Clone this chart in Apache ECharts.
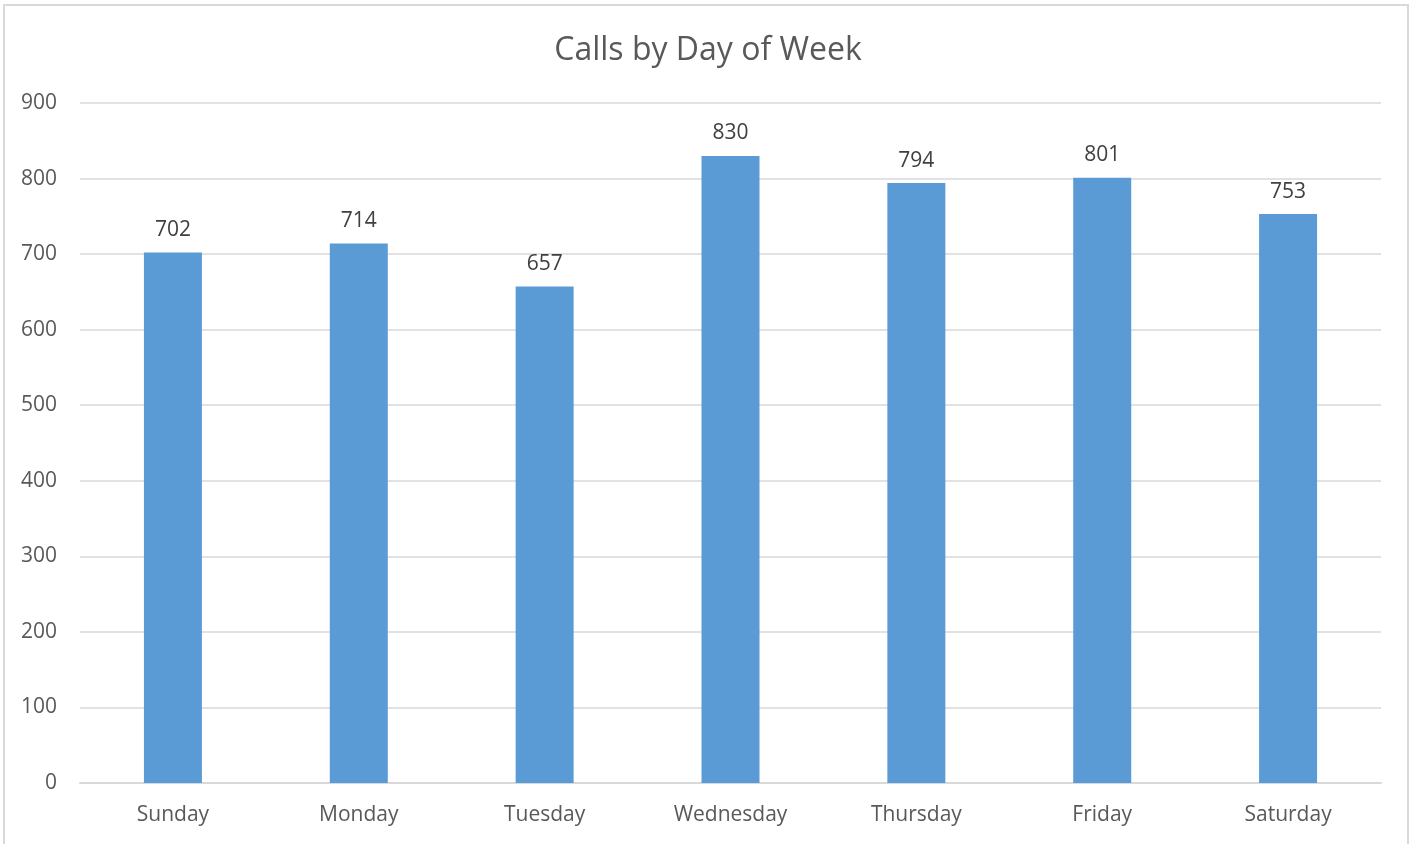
<!DOCTYPE html>
<html>
<head>
<meta charset="utf-8">
<script src="https://cdn.jsdelivr.net/npm/echarts@6/dist/echarts.min.js"></script>
<style>
    html, body { margin: 0; padding: 0; background: #fff; }
    #main { width: 1416px; height: 844px; }
    .frame {
        position: absolute; left: 3px; top: 4px; width: 1406px; height: 840px;
        border: 2px solid #d9d9d9; border-bottom: none; box-sizing: border-box; pointer-events: none;
    }
</style>
</head>
<body>
<div id="main"></div>
<div class="frame"></div>
<script>
    var days = ['Sunday', 'Monday', 'Tuesday', 'Wednesday', 'Thursday', 'Friday', 'Saturday'];
    var calls = [702, 714, 657, 830, 794, 801, 753];

    var chart = echarts.init(document.getElementById('main'));
    var font = 'Open Sans, Noto Sans, sans-serif';
    chart.setOption({
        animation: false,
        title: {
            text: 'Calls by Day of Week',
            left: 'center',
            top: 30,
            textStyle: { fontFamily: font, fontSize: 32, fontWeight: 'normal', color: '#595959' }
        },
        grid: { left: 80, right: 35, top: 103, bottom: 61 },
        xAxis: {
            type: 'category',
            data: days,
            axisLine: { lineStyle: { color: '#d9d9d9', width: 2 } },
            axisTick: { show: false },
            axisLabel: { fontFamily: font, fontSize: 21, color: '#595959', margin: 22 }
        },
        yAxis: {
            type: 'value',
            min: 0,
            max: 900,
            interval: 100,
            axisLine: { show: false },
            axisTick: { show: false },
            splitLine: { lineStyle: { color: '#d9d9d9', width: 1.5 } },
            axisLabel: { fontFamily: font, fontSize: 21, color: '#595959', margin: 23 }
        },
        series: [{
            type: 'bar',
            data: calls,
            barWidth: 58,
            itemStyle: { color: '#5b9bd5' },
            label: {
                show: true,
                position: 'top',
                distance: 12,
                fontFamily: font,
                fontSize: 21,
                color: '#404040'
            }
        }]
    });
</script>
</body>
</html>
